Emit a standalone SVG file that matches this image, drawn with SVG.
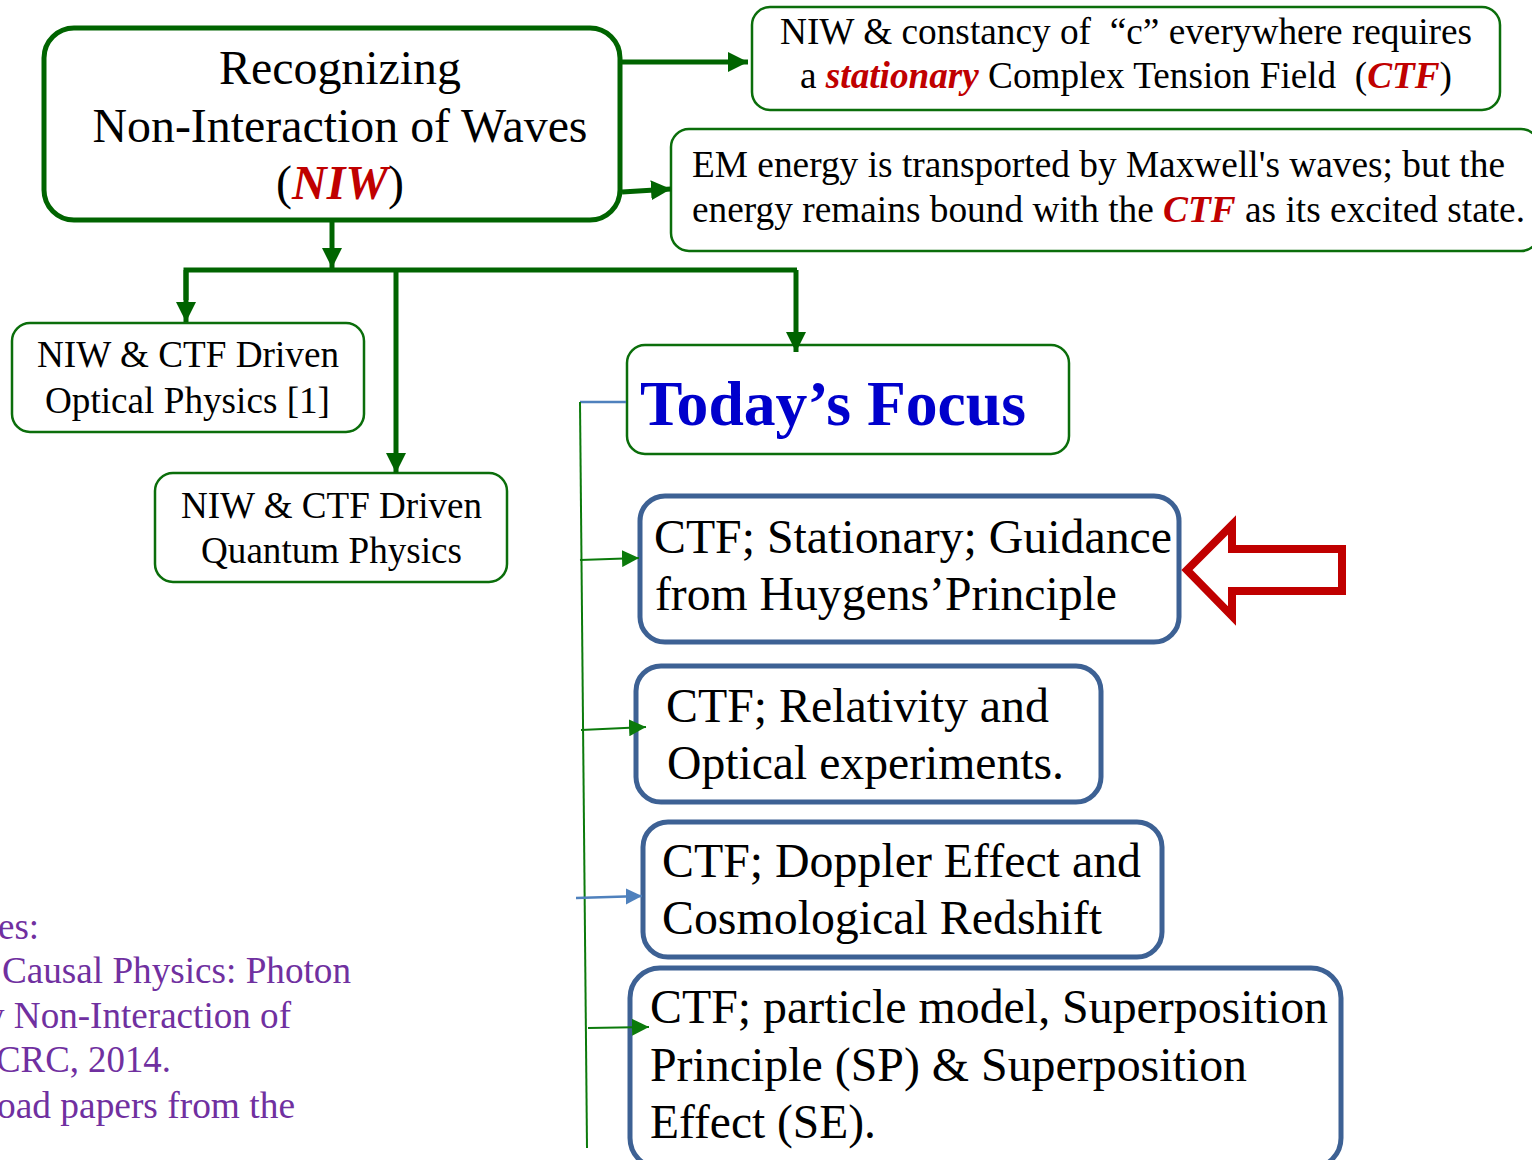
<svg xmlns="http://www.w3.org/2000/svg" width="1532" height="1160" viewBox="0 0 1532 1160">
<style>
text{font-family:"Liberation Serif","Times New Roman",serif;fill:#000}
.gbox{fill:#fff;stroke:#0b6e0b;stroke-width:2.5}
.bbox{fill:#fff;stroke:#3d6194;stroke-width:5}
.thick{stroke:#006400;stroke-width:5;fill:none}
.thin{stroke:#0b7a0b;stroke-width:2;fill:none}
.blue{stroke:#4f81bd;stroke-width:2.5;fill:none}
.red{fill:#c00000;font-weight:bold;font-style:italic}
.t32{font-size:37px}
.t44{font-size:48px}
.ref{font-size:37px;fill:#7030a0}
</style>
<defs>
<marker id="ah" viewBox="0 0 10 10" refX="10" refY="5" markerWidth="4" markerHeight="4" orient="auto" markerUnits="strokeWidth"><path d="M0,0L10,5L0,10z" fill="#006400"/></marker>
<marker id="ahs" viewBox="0 0 10 10" refX="10" refY="5" markerWidth="8.5" markerHeight="8.5" orient="auto" markerUnits="strokeWidth"><path d="M0,0L10,5L0,10z" fill="#0b7a0b"/></marker>
<marker id="ahb" viewBox="0 0 10 10" refX="10" refY="5" markerWidth="6.5" markerHeight="6.5" orient="auto" markerUnits="strokeWidth"><path d="M0,0L10,5L0,10z" fill="#4f81bd"/></marker>
</defs>
<g id="main">
<rect x="44" y="28" width="576" height="192" rx="30" fill="#fff" stroke="#006400" stroke-width="5"/>
<text x="340" y="84" font-size="48" text-anchor="middle" textLength="242" lengthAdjust="spacingAndGlyphs">Recognizing</text>
<text x="340" y="142" font-size="48" text-anchor="middle" textLength="495" lengthAdjust="spacingAndGlyphs">Non-Interaction of Waves</text>
<text x="340" y="199" font-size="48" text-anchor="middle">(<tspan class="red">NIW</tspan>)</text>
</g>
<g id="constancy">
<rect class="gbox" x="752" y="7" width="748" height="103" rx="18"/>
<text class="t32" x="780" y="44" textLength="692" lengthAdjust="spacingAndGlyphs" xml:space="preserve">NIW &amp; constancy of  “c” everywhere requires</text>
<text class="t32" x="800" y="88" textLength="652" lengthAdjust="spacingAndGlyphs" xml:space="preserve">a <tspan class="red">stationary</tspan> Complex Tension Field  (<tspan class="red">CTF</tspan>)</text>
</g>
<g id="energy">
<rect class="gbox" x="671" y="129" width="868" height="122" rx="18"/>
<text class="t32" x="692" y="177" textLength="813" lengthAdjust="spacingAndGlyphs">EM energy is transported by Maxwell's waves; but the</text>
<text class="t32" x="692" y="222" textLength="833" lengthAdjust="spacingAndGlyphs">energy remains bound with the <tspan class="red">CTF</tspan> as its excited state.</text>
</g>
<g id="optical">
<rect class="gbox" x="12" y="323" width="352" height="109" rx="18"/>
<text class="t32" x="37" y="367" textLength="302" lengthAdjust="spacingAndGlyphs">NIW &amp; CTF Driven</text>
<text class="t32" x="45" y="413" textLength="285" lengthAdjust="spacingAndGlyphs">Optical Physics [1]</text>
</g>
<g id="quantum">
<rect class="gbox" x="155" y="473" width="352" height="109" rx="18"/>
<text class="t32" x="181" y="518" textLength="301" lengthAdjust="spacingAndGlyphs">NIW &amp; CTF Driven</text>
<text class="t32" x="201" y="563" textLength="261" lengthAdjust="spacingAndGlyphs">Quantum Physics</text>
</g>
<g id="focus">
<rect class="gbox" x="627" y="345" width="442" height="109" rx="18"/>
<text x="640" y="425" font-size="64" font-weight="bold" style="fill:#0000cc" textLength="386" lengthAdjust="spacingAndGlyphs">Today’s Focus</text>
</g>
<g id="stationary">
<rect class="bbox" x="640" y="496" width="539" height="146" rx="25"/>
<text class="t44" x="654" y="553" textLength="518" lengthAdjust="spacingAndGlyphs">CTF; Stationary; Guidance</text>
<text class="t44" x="655" y="610" textLength="462" lengthAdjust="spacingAndGlyphs">from Huygens’Principle</text>
</g>
<g id="relativity">
<rect class="bbox" x="636" y="666" width="465" height="136" rx="25"/>
<text class="t44" x="666" y="722" textLength="383" lengthAdjust="spacingAndGlyphs">CTF; Relativity and</text>
<text class="t44" x="667" y="779" textLength="397" lengthAdjust="spacingAndGlyphs">Optical experiments.</text>
</g>
<g id="doppler">
<rect class="bbox" x="643" y="822" width="519" height="135" rx="25"/>
<text class="t44" x="662" y="877" textLength="479" lengthAdjust="spacingAndGlyphs">CTF; Doppler Effect and</text>
<text class="t44" x="662" y="934" textLength="440" lengthAdjust="spacingAndGlyphs">Cosmological Redshift</text>
</g>
<g id="particle">
<rect class="bbox" x="630" y="968" width="711" height="200" rx="30"/>
<text class="t44" x="650" y="1023" textLength="678" lengthAdjust="spacingAndGlyphs">CTF; particle model, Superposition</text>
<text class="t44" x="650" y="1081" textLength="597" lengthAdjust="spacingAndGlyphs">Principle (SP) &amp; Superposition</text>
<text class="t44" x="650" y="1138" textLength="226" lengthAdjust="spacingAndGlyphs">Effect (SE).</text>
</g>
<g id="pointer">
<polygon points="1187,570 1232,525 1232,549 1342,549 1342,591 1232,591 1232,616" fill="none" stroke="#c00000" stroke-width="8"/>
</g>
<g id="references">
<text class="ref" x="-2" y="939">es:</text>
<text class="ref" x="2" y="983" textLength="349" lengthAdjust="spacingAndGlyphs">Causal Physics: Photon</text>
<text class="ref" x="-14" y="1028" textLength="305" lengthAdjust="spacingAndGlyphs">y Non-Interaction of</text>
<text class="ref" x="-4" y="1072" textLength="175" lengthAdjust="spacingAndGlyphs">CRC, 2014.</text>
<text class="ref" x="-3" y="1118" textLength="298" lengthAdjust="spacingAndGlyphs">oad papers from the</text>
</g>
<g id="connectors">
<line class="thick" x1="620" y1="62" x2="748" y2="62" marker-end="url(#ah)"/>
<line class="thick" x1="622" y1="192" x2="671" y2="189" marker-end="url(#ah)"/>
<line class="thick" x1="332" y1="222" x2="332" y2="268" marker-end="url(#ah)"/>
<polyline class="thick" points="186,300 186,270 797,270"/>
<line class="thick" x1="186" y1="270" x2="186" y2="322" marker-end="url(#ah)"/>
<line class="thick" x1="396" y1="270" x2="396" y2="473" marker-end="url(#ah)"/>
<line class="thick" x1="796" y1="270" x2="796" y2="352" marker-end="url(#ah)"/>
<line class="blue" x1="580" y1="402" x2="626" y2="402"/>
<line class="thin" x1="580" y1="402" x2="587" y2="1148"/>
<line class="thin" x1="580" y1="560" x2="639" y2="558" marker-end="url(#ahs)"/>
<line class="thin" x1="581" y1="730" x2="646" y2="727" marker-end="url(#ahs)"/>
<line class="blue" x1="576" y1="898" x2="642" y2="896" marker-end="url(#ahb)"/>
<line class="thin" x1="588" y1="1028" x2="649" y2="1027" marker-end="url(#ahs)"/>
</g>
</svg>
